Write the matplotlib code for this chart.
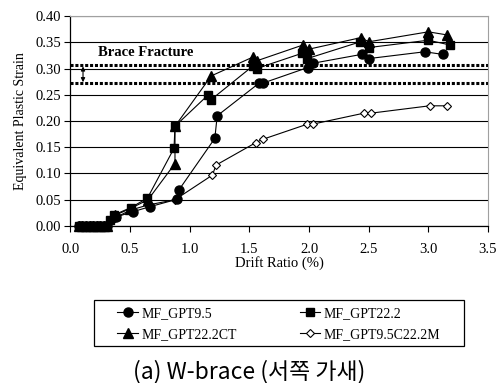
import matplotlib.pyplot as plt
from matplotlib.patches import Rectangle

plt.rcParams["font.family"] = ["Liberation Serif", "DejaVu Serif"]

# drift ratio (%) / equivalent plastic strain
zero_x = [0.07, 0.10, 0.13, 0.16, 0.19, 0.22, 0.25, 0.28, 0.31]

gpt95_x = zero_x + [0.38, 0.52, 0.67, 0.895, 0.91, 1.21, 1.23, 1.58, 1.61, 1.99, 2.03, 2.44, 2.50, 2.97, 3.12]
gpt95_y = [0.0] * 9 + [0.017, 0.027, 0.037, 0.051, 0.069, 0.167, 0.210, 0.272, 0.272, 0.302, 0.310, 0.327, 0.319, 0.332, 0.327]

gpt222_x = zero_x + [0.33, 0.365, 0.505, 0.645, 0.868, 0.876, 1.155, 1.18, 1.53, 1.56, 1.94, 1.985, 2.43, 2.50, 3.00, 3.18]
gpt222_y = [0.0] * 9 + [0.011, 0.021, 0.035, 0.053, 0.148, 0.190, 0.250, 0.241, 0.305, 0.300, 0.329, 0.319, 0.351, 0.340, 0.354, 0.345]

gpt222ct_x = zero_x + [0.37, 0.50, 0.65, 0.876, 0.876, 1.18, 1.53, 1.565, 1.95, 2.00, 2.435, 2.50, 3.00, 3.16]
gpt222ct_y = [0.0] * 9 + [0.020, 0.033, 0.050, 0.119, 0.190, 0.286, 0.322, 0.315, 0.345, 0.337, 0.359, 0.351, 0.370, 0.364]

gpt95c_x = zero_x + [0.37, 0.50, 0.65, 0.876, 1.19, 1.22, 1.555, 1.61, 1.985, 2.03, 2.46, 2.52, 3.01, 3.16]
gpt95c_y = [0.0] * 9 + [0.015, 0.030, 0.040, 0.050, 0.097, 0.116, 0.159, 0.165, 0.194, 0.194, 0.215, 0.215, 0.229, 0.229]

fracture_lo = 0.272
fracture_hi = 0.306

fig = plt.figure(figsize=(5.01, 3.83), dpi=100)
ax = fig.add_axes([0.1407, 0.410, 0.8333, 0.548])

# drawn bottom to top: diamonds, circles, triangles, squares
l4, = ax.plot(gpt95c_x, gpt95c_y, color="black", lw=0.8, marker="D", ms=4.5, mfc="white",
              mew=0.8, label="MF_GPT9.5C22.2M", zorder=3, clip_on=False)
l1, = ax.plot(gpt95_x, gpt95_y, color="black", lw=0.8, marker="o", ms=6.5, label="MF_GPT9.5",
              zorder=3, clip_on=False)
l3, = ax.plot(gpt222ct_x, gpt222ct_y, color="black", lw=0.8, marker="^", ms=6.5, label="MF_GPT22.2CT",
              zorder=3, clip_on=False)
l2, = ax.plot(gpt222_x, gpt222_y, color="black", lw=0.8, marker="s", ms=6, label="MF_GPT22.2",
              zorder=3, clip_on=False)

# brace fracture band
ax.axhline(fracture_hi, color="black", lw=2.2, ls=(0, (1, 0.6)), zorder=2)
ax.axhline(fracture_lo, color="black", lw=2.2, ls=(0, (1, 0.6)), zorder=2)
ax.annotate("", xy=(0.105, fracture_lo + 0.002), xytext=(0.105, fracture_hi - 0.002),
            arrowprops=dict(arrowstyle="<|-|>", color="black", lw=0.8,
                            mutation_scale=6, shrinkA=0, shrinkB=0))
ax.text(0.23, 0.33, "Brace Fracture", fontsize=10.5, fontweight="bold", va="center")

ax.set_xlim(0, 3.5)
ax.set_ylim(0, 0.40)
ax.set_xticks([0.0, 0.5, 1.0, 1.5, 2.0, 2.5, 3.0, 3.5])
ax.set_yticks([0.0, 0.05, 0.10, 0.15, 0.20, 0.25, 0.30, 0.35, 0.40])
ax.set_xticklabels(["0.0", "0.5", "1.0", "1.5", "2.0", "2.5", "3.0", "3.5"])
ax.set_yticklabels(["0.00", "0.05", "0.10", "0.15", "0.20", "0.25", "0.30", "0.35", "0.40"])
ax.tick_params(labelsize=10.5, direction="out", length=4, width=0.8)
ax.tick_params(axis="x", pad=8)
ax.tick_params(axis="y", pad=3)
ax.yaxis.grid(True, color="black", lw=0.8)
ax.set_axisbelow(True)

for side in ["top", "right"]:
    ax.spines[side].set_color("#a0a0a0")
for side in ["left", "bottom"]:
    ax.spines[side].set_linewidth(0.9)

ax.set_xlabel("Drift Ratio (%)", fontsize=10.5, labelpad=0)
ax.set_ylabel("Equivalent Plastic Strain", fontsize=10, labelpad=6)

# legend box drawn separately so the side padding matches
fig.patches.append(Rectangle((94 / 501, 1 - 346 / 383), 370 / 501, 46 / 383,
                             transform=fig.transFigure, fill=False, ec="black", lw=0.9))
fig.legend([l1, l3, l2, l4], [l1.get_label(), l3.get_label(), l2.get_label(), l4.get_label()],
           loc="center", bbox_to_anchor=(279 / 501, 1 - 324 / 383), ncol=2, fontsize=10,
           frameon=False, handlelength=1.45, columnspacing=4.5, handletextpad=0.3,
           borderpad=0.0, labelspacing=0.6)

fig.text(0.497, 0.031, "(a) W-brace (서쪽 가새)", ha="center", va="center", fontsize=16.5,
         family=["Noto Sans CJK KR", "DejaVu Sans"])

fig.savefig("out.png", dpi=100)
